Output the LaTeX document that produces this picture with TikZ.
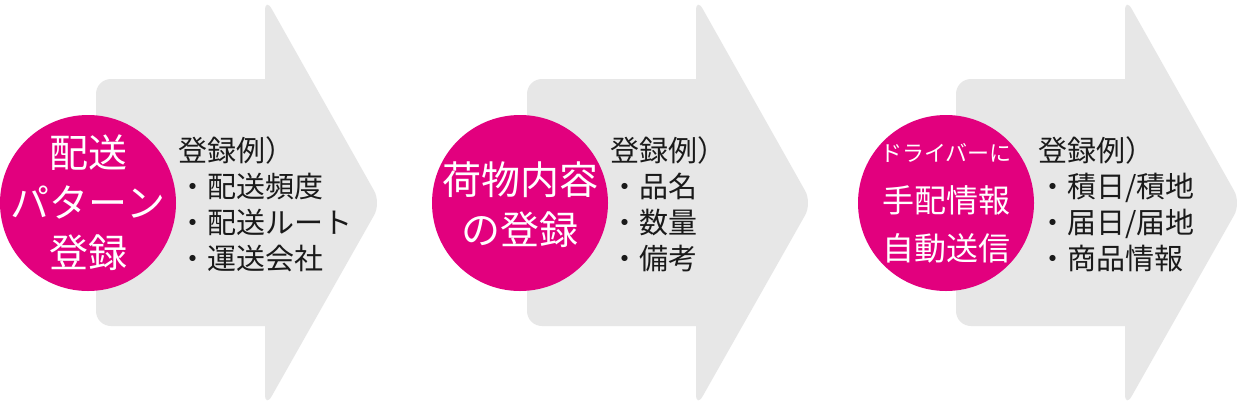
\documentclass[tikz,border=0pt]{standalone}
\usepackage{fontspec}
\setmainfont{Noto Sans CJK JP}
\definecolor{mag}{HTML}{E2007E}
\definecolor{arrowgray}{HTML}{E7E7E7}
\definecolor{txt}{HTML}{1A1A1A}
\tikzset{
  arrowbody/.style={fill=arrowgray, draw=none, rounded corners=15pt},
  arrowhead/.style={fill=arrowgray, draw=none, rounded corners=14pt},
  circ/.style={circle, fill=mag, draw=none, minimum size=176pt, inner sep=0pt},
  ctext/.style={text=white, align=center, inner sep=0pt, font=\fontsize{39}{50}\selectfont},
  ctextsmall/.style={text=white, align=center, inner sep=0pt, font=\fontsize{22}{26}\selectfont},
  ctextmid/.style={text=white, align=center, inner sep=0pt, font=\fontsize{32}{40}\selectfont},
  listtext/.style={text=txt, align=left, anchor=west, inner sep=0pt, font=\fontsize{29}{36}\selectfont}
}
\begin{document}
\begin{tikzpicture}[x=1pt,y=-1pt]
\useasboundingbox (0,0) rectangle (1239,405);
\fill[white] (0,0) rectangle (1239,405);
% arrows
\foreach \dx/\nm in {0/a1,431/a2,860/a3}{
  \begin{scope}[xshift=\dx pt]
    \fill[arrowbody] (96,79) -- (285,79) -- (285,326) -- (96,326) -- cycle;
    \fill[arrowhead] (265,-3) -- (381,203) -- (265,408) -- cycle;
  \end{scope}
}
% panel 1
\node[circ] (c1) at (88,203) {};
\node[ctext] (t1) at (c1) {配送\\パターン\\登録};
\node[listtext] (l1) at (178,204) {登録例）\\・配送頻度\\・配送ルート\\・運送会社};
% panel 2
\node[circ] (c2) at (520,203) {};
\node[ctext] (t2) at (520,205) {荷物内容\\の登録};
\node[listtext] (l2) at (610,204) {登録例）\\・品名\\・数量\\・備考};
% panel 3
\node[circ] (c3) at (946,203) {};
\node[ctextsmall] (t3a) at (946,153) {ドライバーに};
\node[ctextmid] (t3b) at (946,200) {手配情報};
\node[ctextmid] (t3c) at (946,248) {自動送信};
\node[listtext] (l3) at (1038,204) {登録例）\\・積日/積地\\・届日/届地\\・商品情報};
\end{tikzpicture}
\end{document}
